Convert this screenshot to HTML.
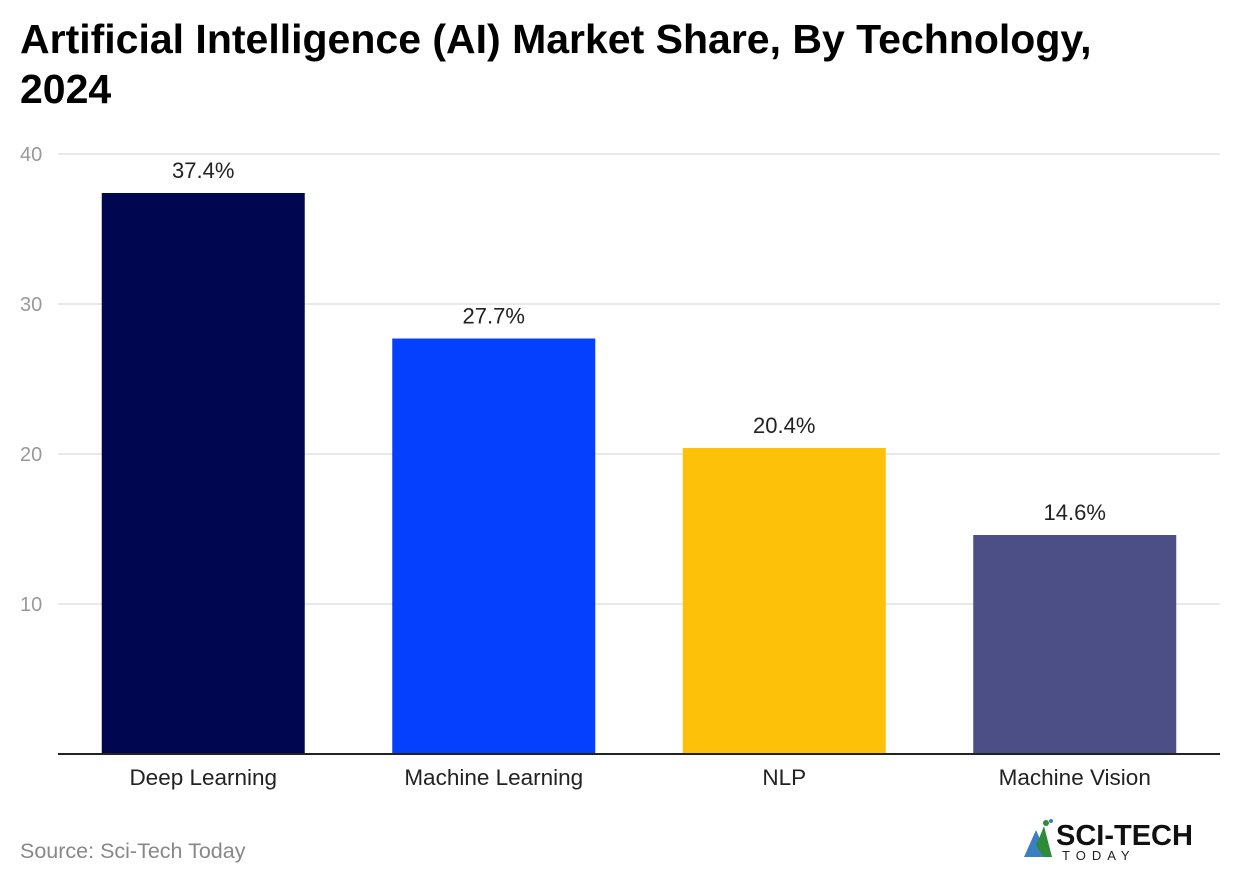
<!DOCTYPE html>
<html><head><meta charset="utf-8"><style>
body{margin:0;background:#fff;width:1240px;height:884px;overflow:hidden;font-family:"Liberation Sans",sans-serif}
h1{position:absolute;left:20px;top:14px;margin:0;font-size:41px;line-height:50px;font-weight:bold;color:#000;width:1120px}
</style></head><body>
<h1>Artificial Intelligence (AI) Market Share, By Technology, 2024</h1>
<svg id="c" width="1240" height="884" style="position:absolute;left:0;top:0">
<text x="20" y="858" font-size="21.5" fill="#888">Source: Sci-Tech Today</text>
<g>
<path d="M1024 857 L1036 830 L1048 857 Z" fill="#3a7fc1"/>
<path d="M1036 846 L1044 826 L1052 857 L1044 857 Z" fill="#2e8b3a"/>
<circle cx="1046" cy="823" r="3" fill="#2e8b3a"/><circle cx="1051" cy="821" r="2" fill="#3a7fc1"/>
<text x="1056" y="845" font-size="29" font-weight="bold" fill="#111">SCI-TECH</text>
<text x="1062" y="860" font-size="13" letter-spacing="6" fill="#222">TODAY</text>
</g>
</svg>
<script>
const categories=["Deep Learning","Machine Learning","NLP","Machine Vision"];
const values=[37.4,27.7,20.4,14.6];
const labels=["37.4%","27.7%","20.4%","14.6%"];
const colors=["#00064f","#0540ff","#fcc108","#4b4f85"];
const ticks=[10,20,30,40];
const svg=document.getElementById('c');const NS="http://www.w3.org/2000/svg";
const x0=58,x1=1220,y0=754,yTop=154,maxV=40;
const y=v=>y0-(y0-yTop)*v/maxV;
const band=(x1-x0)/categories.length;
function mk(t,a){const e=document.createElementNS(NS,t);for(const k in a)e.setAttribute(k,a[k]);svg.appendChild(e);return e;}
ticks.forEach(t=>{
 const l=mk('line',{x1:x0,x2:x1,y1:y(t),y2:y(t),stroke:'#e2e2e2','stroke-width':1.5});
 
 
 const tx=mk('text',{x:20,y:y(t)+7,'font-size':20,fill:'#999'});tx.textContent=t;
 
 
});
categories.forEach((c,i)=>{
 const cx=x0+band*(i+0.5),w=203;
 const r=mk('rect',{x:cx-w/2,y:y(values[i]),width:w,height:y0-y(values[i]),fill:colors[i]});
 
 
 const v=mk('text',{x:cx,y:y(values[i])-15,'font-size':22,fill:'#222','text-anchor':'middle'});v.textContent=labels[i];
 
 
 const t=mk('text',{x:cx,y:785,'font-size':22.5,fill:'#222','text-anchor':'middle'});t.textContent=c;
 
 
});
const ax=mk('line',{x1:x0,x2:x1,y1:y0,y2:y0,stroke:'#222','stroke-width':2});


</script>
</body></html>
